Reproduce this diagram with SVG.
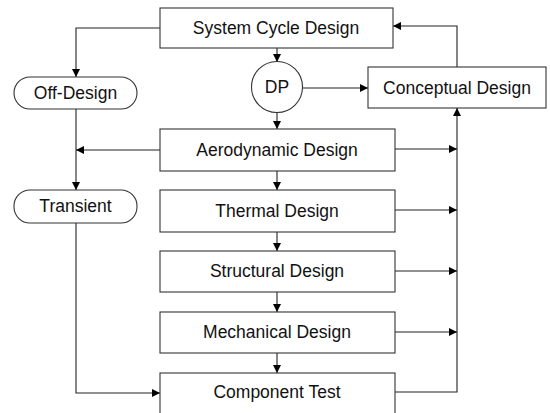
<svg xmlns="http://www.w3.org/2000/svg" width="550" height="413" viewBox="0 0 550 413">
<defs>
<style>
.box{fill:#fff;stroke:#333;stroke-width:1.1}
.lbl{font-family:"Liberation Sans",Arial,sans-serif;font-size:17.5px;fill:#111;text-anchor:middle}
.con{fill:none;stroke:#222;stroke-width:1.1}
</style>
<marker id="ah" viewBox="0 0 10 10" refX="10" refY="5" markerWidth="9" markerHeight="8" markerUnits="userSpaceOnUse" orient="auto">
<path d="M0,0 L10,5 L0,10 z" fill="#000"/>
</marker>
</defs>
<rect width="550" height="413" fill="#fff"/>
<g id="connectors">
<path class="con" d="M160,28 H76 V77" marker-end="url(#ah)"/>
<path class="con" d="M76,109 V190" marker-end="url(#ah)"/>
<path class="con" d="M160,150 H76" marker-end="url(#ah)"/>
<path class="con" d="M76,223 V393 H160" marker-end="url(#ah)"/>
<path class="con" d="M277,48 V62" marker-end="url(#ah)"/>
<path class="con" d="M277,113 V129" marker-end="url(#ah)"/>
<path class="con" d="M277,171 V190" marker-end="url(#ah)"/>
<path class="con" d="M277,232 V251" marker-end="url(#ah)"/>
<path class="con" d="M277,292 V312" marker-end="url(#ah)"/>
<path class="con" d="M277,353 V373" marker-end="url(#ah)"/>
<path class="con" d="M302,88 H368" marker-end="url(#ah)"/>
<path class="con" d="M395,392 H457 V108" marker-end="url(#ah)"/>
<path class="con" d="M395,149 H457" marker-end="url(#ah)"/>
<path class="con" d="M395,210 H457" marker-end="url(#ah)"/>
<path class="con" d="M395,271 H457" marker-end="url(#ah)"/>
<path class="con" d="M395,332 H457" marker-end="url(#ah)"/>
<path class="con" d="M457,67 V26 H393" marker-end="url(#ah)"/>
</g>
<g id="system-cycle-design">
<rect class="box" x="160" y="8" width="233" height="40"/>
<text class="lbl" x="276" y="34">System Cycle Design</text>
</g>
<g id="dp">
<circle class="box" cx="277" cy="87" r="25.5"/>
<text class="lbl" x="277" y="93">DP</text>
</g>
<g id="conceptual-design">
<rect class="box" x="368" y="67" width="178" height="41"/>
<text class="lbl" x="457" y="94">Conceptual Design</text>
</g>
<g id="off-design">
<rect class="box" x="14" y="77" width="123" height="32" rx="16" ry="16"/>
<text class="lbl" x="75.5" y="99">Off-Design</text>
</g>
<g id="transient">
<rect class="box" x="14" y="190" width="123" height="33" rx="16" ry="16"/>
<text class="lbl" x="75.5" y="212">Transient</text>
</g>
<g id="aerodynamic-design">
<rect class="box" x="160" y="129" width="235" height="42"/>
<text class="lbl" x="277" y="156">Aerodynamic Design</text>
</g>
<g id="thermal-design">
<rect class="box" x="160" y="190" width="235" height="42"/>
<text class="lbl" x="277" y="217">Thermal Design</text>
</g>
<g id="structural-design">
<rect class="box" x="160" y="251" width="235" height="41"/>
<text class="lbl" x="277" y="277">Structural Design</text>
</g>
<g id="mechanical-design">
<rect class="box" x="160" y="312" width="235" height="41"/>
<text class="lbl" x="277" y="338">Mechanical Design</text>
</g>
<g id="component-test">
<rect class="box" x="160" y="373" width="235" height="45"/>
<text class="lbl" x="277" y="398">Component Test</text>
</g>
</svg>
